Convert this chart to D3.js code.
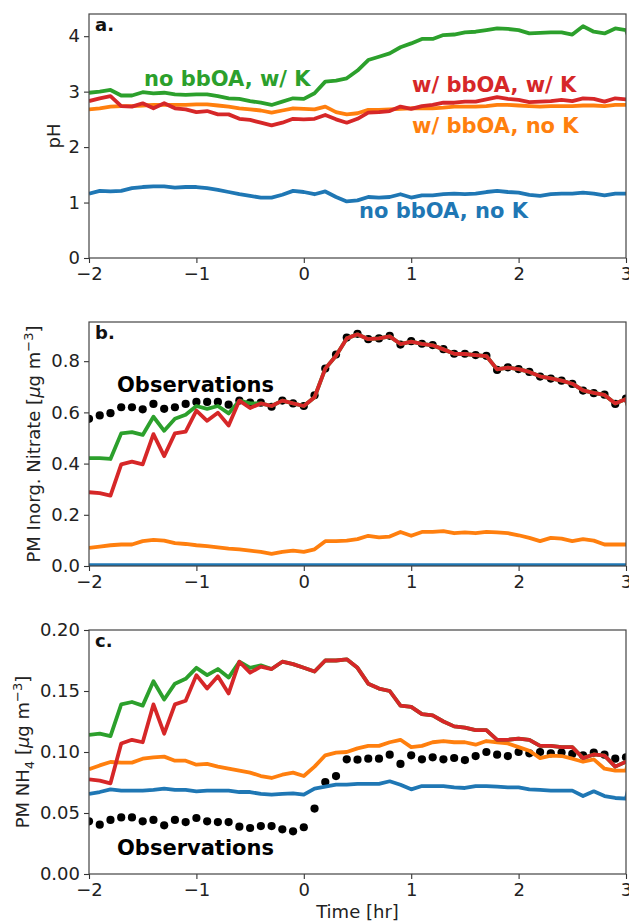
<!DOCTYPE html>
<html>
<head>
<meta charset="utf-8">
<script src="https://cdn.jsdelivr.net/npm/d3@7"></script>
<style>
  body { margin: 0; background: #fff; }
  svg text { font-family: "DejaVu Sans", sans-serif; }
</style>
</head>
<body>
<div id="chart"></div>
<script>
// time axis (hr); last point sits just past the right edge and gets clipped
const time = [-2.0,-1.9,-1.8,-1.7,-1.6,-1.5,-1.4,-1.3,-1.2,-1.1,
  -1.0,-0.9,-0.8,-0.7,-0.6,-0.5,-0.4,-0.3,-0.2,-0.1,
  0.0,0.1,0.2,0.3,0.4,0.5,0.6,0.7,0.8,0.9,
  1.0,1.1,1.2,1.3,1.4,1.5,1.6,1.7,1.8,1.9,
  2.0,2.1,2.2,2.3,2.4,2.5,2.6,2.7,2.8,2.9,
  3.0,3.1];

const xTicks = [-2, -1, 0, 1, 2, 3];
const xTickLabels = ["\u22122", "\u22121", "0", "1", "2", "3"];

// panel a: pH
const phNoBbNoK = [1.16,1.21,1.20,1.21,1.26,1.28,1.29,1.29,1.27,1.28,
  1.28,1.26,1.23,1.19,1.15,1.12,1.09,1.09,1.14,1.21,
  1.19,1.15,1.20,1.10,1.02,1.04,1.10,1.09,1.10,1.15,
  1.09,1.13,1.13,1.15,1.16,1.15,1.16,1.19,1.21,1.19,
  1.18,1.14,1.12,1.15,1.16,1.16,1.18,1.16,1.13,1.16,
  1.16,1.16];
const phNoBbK = [2.98,3.00,3.03,2.93,2.93,2.99,2.97,2.98,2.95,2.94,
  2.95,2.95,2.92,2.88,2.87,2.83,2.80,2.76,2.82,2.88,
  2.87,2.97,3.18,3.20,3.24,3.38,3.57,3.63,3.69,3.80,
  3.87,3.95,3.95,4.02,4.03,4.07,4.08,4.11,4.14,4.13,
  4.11,4.05,4.06,4.07,4.07,4.03,4.18,4.08,4.05,4.14,
  4.11,3.60];
const phBbNoK = [2.68,2.70,2.73,2.74,2.74,2.75,2.76,2.76,2.76,2.76,
  2.77,2.77,2.75,2.73,2.70,2.68,2.66,2.62,2.66,2.70,
  2.69,2.68,2.73,2.63,2.59,2.61,2.67,2.67,2.68,2.69,
  2.70,2.70,2.70,2.71,2.73,2.73,2.73,2.74,2.76,2.76,
  2.75,2.74,2.73,2.74,2.74,2.74,2.75,2.75,2.74,2.76,
  2.76,2.76];
const phBbK = [2.83,2.88,2.92,2.74,2.73,2.79,2.70,2.79,2.70,2.68,
  2.63,2.65,2.59,2.59,2.51,2.49,2.44,2.39,2.44,2.51,
  2.50,2.51,2.58,2.50,2.44,2.51,2.62,2.63,2.65,2.73,
  2.69,2.74,2.76,2.80,2.80,2.82,2.82,2.86,2.90,2.87,
  2.85,2.81,2.82,2.83,2.85,2.83,2.88,2.87,2.82,2.88,
  2.86,2.86];

// panel b: inorganic nitrate (ug m-3)
const obsNitrate = [0.575,0.588,0.597,0.620,0.620,0.612,0.633,0.614,0.620,0.633,
  0.641,0.641,0.641,0.630,0.646,0.638,0.638,0.622,0.646,0.635,
  0.625,0.667,0.771,0.826,0.892,0.907,0.886,0.889,0.899,0.865,
  0.878,0.868,0.863,0.847,0.829,0.829,0.824,0.821,0.766,0.776,
  0.769,0.758,0.740,0.732,0.724,0.711,0.685,0.675,0.669,0.633,
  0.654];
const no3NoBbNoK = [0.003,0.003,0.003,0.003,0.003,0.003,0.003,0.003,0.003,0.003,
  0.003,0.003,0.003,0.003,0.003,0.003,0.003,0.003,0.003,0.003,
  0.003,0.003,0.003,0.003,0.003,0.003,0.003,0.003,0.003,0.003,
  0.003,0.003,0.003,0.003,0.003,0.003,0.003,0.003,0.003,0.003,
  0.003,0.003,0.003,0.003,0.003,0.003,0.003,0.003,0.003,0.003,
  0.003,0.003];
const no3NoBbK = [0.421,0.421,0.418,0.518,0.523,0.512,0.583,0.528,0.575,0.591,
  0.625,0.614,0.625,0.596,0.646,0.635,0.635,0.625,0.646,0.635,
  0.625,0.659,0.771,0.821,0.889,0.905,0.886,0.889,0.897,0.867,
  0.876,0.868,0.862,0.846,0.829,0.828,0.824,0.820,0.768,0.775,
  0.769,0.758,0.741,0.733,0.724,0.712,0.686,0.676,0.668,0.635,
  0.652,0.500];
const no3BbNoK = [0.071,0.076,0.081,0.084,0.084,0.097,0.102,0.099,0.089,0.086,
  0.081,0.078,0.073,0.068,0.065,0.060,0.055,0.047,0.055,0.060,
  0.055,0.065,0.097,0.097,0.099,0.105,0.118,0.112,0.115,0.133,
  0.118,0.133,0.133,0.136,0.128,0.131,0.128,0.133,0.131,0.128,
  0.120,0.110,0.097,0.110,0.107,0.097,0.105,0.099,0.084,0.084,
  0.084,0.084];
const no3BbK = [0.288,0.285,0.275,0.397,0.408,0.397,0.515,0.429,0.518,0.525,
  0.607,0.567,0.599,0.549,0.646,0.617,0.635,0.625,0.646,0.635,
  0.625,0.659,0.771,0.821,0.889,0.905,0.886,0.889,0.897,0.867,
  0.876,0.868,0.862,0.846,0.829,0.828,0.824,0.820,0.768,0.775,
  0.769,0.758,0.741,0.733,0.724,0.712,0.686,0.676,0.668,0.635,
  0.652,0.500];

// panel c: NH4 (ug m-3)
const obsNH4 = [0.0432,0.0404,0.0443,0.0464,0.0464,0.0432,0.0443,0.0399,0.0443,0.0426,
  0.0459,0.0432,0.0426,0.0426,0.0388,0.0377,0.0393,0.0393,0.0366,0.0350,
  0.0383,0.0536,0.0754,0.0803,0.0940,0.0937,0.0945,0.0945,0.0978,0.0902,
  0.0973,0.0940,0.0956,0.0940,0.0951,0.0934,0.0967,0.1000,0.0978,0.0967,
  0.1000,0.0989,0.1000,0.0989,0.0995,0.0984,0.0973,0.0995,0.0978,0.0945,
  0.0956];
const nh4NoBbNoK = [0.0656,0.0672,0.0694,0.0683,0.0683,0.0683,0.0689,0.0700,0.0689,0.0689,
  0.0678,0.0683,0.0683,0.0683,0.0672,0.0672,0.0656,0.0650,0.0656,0.0661,
  0.0650,0.0700,0.0716,0.0732,0.0732,0.0738,0.0738,0.0738,0.0760,0.0732,
  0.0694,0.0721,0.0721,0.0721,0.0710,0.0705,0.0721,0.0721,0.0716,0.0710,
  0.0710,0.0694,0.0689,0.0683,0.0683,0.0683,0.0639,0.0678,0.0639,0.0623,
  0.0617,0.1000];
const nh4NoBbK = [0.114,0.115,0.113,0.139,0.141,0.138,0.158,0.143,0.156,0.160,
  0.169,0.163,0.168,0.161,0.174,0.169,0.171,0.168,0.174,0.172,
  0.169,0.166,0.175,0.175,0.176,0.169,0.156,0.152,0.150,0.138,
  0.137,0.131,0.130,0.125,0.121,0.120,0.118,0.118,0.110,0.110,
  0.111,0.110,0.105,0.105,0.104,0.104,0.095,0.098,0.097,0.088,
  0.092,0.092];
const nh4BbNoK = [0.0858,0.0890,0.0918,0.0913,0.0913,0.0945,0.0956,0.0962,0.0929,0.0929,
  0.0896,0.0902,0.0880,0.0863,0.0847,0.0831,0.0803,0.0787,0.0814,0.0831,
  0.0803,0.0880,0.0973,0.0995,0.1000,0.1030,0.1050,0.1050,0.1080,0.1100,
  0.1040,0.1050,0.1080,0.1090,0.1080,0.1080,0.1060,0.1090,0.1080,0.1070,
  0.1040,0.1010,0.0950,0.0970,0.0967,0.0945,0.0920,0.0940,0.0863,0.0847,
  0.0847,0.1200];
const nh4BbK = [0.0776,0.0765,0.0743,0.107,0.110,0.108,0.139,0.115,0.139,0.142,
  0.163,0.152,0.162,0.148,0.174,0.165,0.170,0.168,0.174,0.172,
  0.169,0.166,0.175,0.175,0.176,0.169,0.156,0.152,0.150,0.138,
  0.137,0.131,0.130,0.125,0.121,0.120,0.118,0.118,0.110,0.110,
  0.111,0.110,0.105,0.105,0.104,0.104,0.095,0.098,0.097,0.088,
  0.092,0.092];

const colors = { noBbNoK: "#1f77b4", bbNoK: "#ff7f0e", noBbK: "#2ca02c", bbK: "#d62728" };

const width = 629, height = 924;
const x0 = 89, x1 = 626, panelH = 244;

const svg = d3.select("#chart").append("svg")
  .attr("width", width)
  .attr("height", height);

const x = d3.scaleLinear().domain([-2, 3]).range([x0, x1]);

function drawPanel(p, idx) {
  const top = p.top, bottom = p.top + panelH;
  const y = d3.scaleLinear().domain(p.yDomain).range([bottom, top]);
  const g = svg.append("g");

  const clipId = "clip" + idx;
  g.append("clipPath").attr("id", clipId)
    .append("rect").attr("x", x0).attr("y", top).attr("width", x1 - x0).attr("height", panelH);

  const plot = g.append("g").attr("clip-path", `url(#${clipId})`);

  // observations behind the model lines
  if (p.obs) {
    plot.selectAll("circle")
      .data(p.obs)
      .join("circle")
      .attr("cx", (d, i) => x(time[i]))
      .attr("cy", d => y(d))
      .attr("r", 4.1)
      .attr("fill", "#000");
  }

  const line = d3.line().x((d, i) => x(time[i])).y(d => y(d));
  p.series.forEach(s => {
    plot.append("path")
      .attr("d", line(s.values))
      .attr("fill", "none")
      .attr("stroke", s.color)
      .attr("stroke-width", 3.8)
      .attr("stroke-linejoin", "round");
  });

  // axes
  const xAxis = d3.axisBottom(x).tickValues(xTicks)
    .tickFormat((d, i) => xTickLabels[i]).tickSizeOuter(0).tickSize(5).tickPadding(4);
  const yAxis = d3.axisLeft(y).tickValues(p.yTicks)
    .tickFormat((d, i) => p.yTickLabels[i]).tickSizeOuter(0).tickSize(5).tickPadding(4);

  const gx = g.append("g").attr("transform", `translate(0,${bottom})`).call(xAxis);
  const gy = g.append("g").attr("transform", `translate(${x0},0)`).call(yAxis);
  [gx, gy].forEach(a => {
    a.select(".domain").remove();
    a.selectAll(".tick line").attr("stroke", "#333").attr("stroke-width", 1.1);
    a.selectAll(".tick text").attr("font-size", 18).attr("fill", "#222")
      .style("font-family", "'DejaVu Sans', sans-serif");
  });

  g.append("rect")
    .attr("x", x0).attr("y", top)
    .attr("width", x1 - x0).attr("height", panelH)
    .attr("fill", "none").attr("stroke", "#444").attr("stroke-width", 1.2);

  // panel letter
  g.append("text")
    .attr("x", x0 + 6).attr("y", top + 17)
    .attr("font-size", 18).attr("font-weight", "bold").attr("fill", "#111")
    .text(p.letter);

  // y label
  const yl = g.append("text")
    .attr("transform", `translate(${p.yLabelX},${(top + bottom) / 2}) rotate(-90)`)
    .attr("text-anchor", "middle")
    .attr("font-size", 18).attr("fill", "#222");
  p.yLabel(yl);

  // in-plot annotations
  p.notes.forEach(n => {
    g.append("text")
      .attr("x", n.x).attr("y", n.y)
      .attr("font-size", 21).attr("font-weight", "bold")
      .attr("fill", n.color)
      .text(n.text);
  });
}

function unitLabel(t, prefix, sub) {
  t.append("tspan").text(prefix);
  if (sub) {
    t.append("tspan").attr("font-size", 13).attr("dy", 5).text(sub);
    t.append("tspan").attr("dy", -5).text(" [");
  } else {
    t.append("tspan").text(" [");
  }
  t.append("tspan").attr("font-style", "italic").text("\u03bc");
  t.append("tspan").text("g m");
  t.append("tspan").attr("font-size", 13).attr("dy", -7).text("\u22123");
  t.append("tspan").attr("dy", 7).text("]");
}

const panels = [
  {
    letter: "a.", top: 14, yDomain: [0, 4.4],
    yTicks: [0, 1, 2, 3, 4], yTickLabels: ["0", "1", "2", "3", "4"],
    yLabelX: 60,
    yLabel: t => t.text("pH"),
    series: [
      { values: phNoBbNoK, color: colors.noBbNoK },
      { values: phBbNoK, color: colors.bbNoK },
      { values: phNoBbK, color: colors.noBbK },
      { values: phBbK, color: colors.bbK }
    ],
    notes: [
      { text: "no bbOA, w/ K", x: 144, y: 86, color: colors.noBbK },
      { text: "w/ bbOA, w/ K", x: 412, y: 92, color: colors.bbK },
      { text: "w/ bbOA, no K", x: 412, y: 133, color: colors.bbNoK },
      { text: "no bbOA, no K", x: 359, y: 218, color: colors.noBbNoK }
    ]
  },
  {
    letter: "b.", top: 322, yDomain: [0, 0.953],
    yTicks: [0, 0.2, 0.4, 0.6, 0.8], yTickLabels: ["0.0", "0.2", "0.4", "0.6", "0.8"],
    yLabelX: 40, obs: obsNitrate,
    yLabel: t => unitLabel(t, "PM Inorg. Nitrate", null),
    series: [
      { values: no3NoBbNoK, color: colors.noBbNoK },
      { values: no3BbNoK, color: colors.bbNoK },
      { values: no3NoBbK, color: colors.noBbK },
      { values: no3BbK, color: colors.bbK }
    ],
    notes: [
      { text: "Observations", x: 117, y: 392, color: "#000" }
    ]
  },
  {
    letter: "c.", top: 630, yDomain: [0, 0.2],
    yTicks: [0, 0.05, 0.1, 0.15, 0.2], yTickLabels: ["0.00", "0.05", "0.10", "0.15", "0.20"],
    yLabelX: 29, obs: obsNH4,
    yLabel: t => unitLabel(t, "PM NH", "4"),
    series: [
      { values: nh4NoBbNoK, color: colors.noBbNoK },
      { values: nh4BbNoK, color: colors.bbNoK },
      { values: nh4NoBbK, color: colors.noBbK },
      { values: nh4BbK, color: colors.bbK }
    ],
    notes: [
      { text: "Observations", x: 117, y: 855, color: "#000" }
    ]
  }
];

panels.forEach(drawPanel);

// x label under the last panel
svg.append("text")
  .attr("x", (x0 + x1) / 2).attr("y", 918)
  .attr("text-anchor", "middle")
  .attr("font-size", 18).attr("fill", "#222")
  .text("Time [hr]");
</script>
</body>
</html>
